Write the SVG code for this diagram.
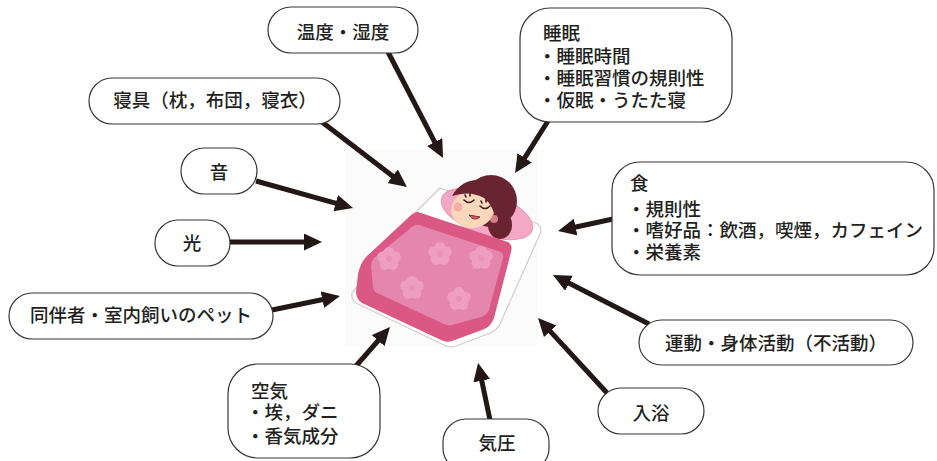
<svg xmlns="http://www.w3.org/2000/svg" width="937" height="461" viewBox="0 0 937 461">
  <style>
    .box { fill: #ffffff; stroke: #3a3536; stroke-width: 1.2; }
    .t { font-family: "Noto Sans CJK JP", "Noto Sans", sans-serif; font-size: 18.5px; font-weight: 500; fill: #231f20; }
    .mid { text-anchor: middle; }
    .arrow { stroke: #231815; stroke-width: 5; fill: none; marker-end: url(#head); }
    .petal { fill: #ee9fbf; }
  </style>
  <defs>
    <marker id="head" markerUnits="userSpaceOnUse" markerWidth="20" markerHeight="18" refX="8" refY="8.5" orient="auto" viewBox="0 0 20 18">
      <path d="M0,0 L18,8.5 L0,17 Z" fill="#231815"/>
    </marker>
    <g id="flower">
      <circle class="petal" cx="0" cy="-6.5" r="5.5"/>
      <circle class="petal" cx="6.2" cy="-2" r="5.5"/>
      <circle class="petal" cx="3.8" cy="5.3" r="5.5"/>
      <circle class="petal" cx="-3.8" cy="5.3" r="5.5"/>
      <circle class="petal" cx="-6.2" cy="-2" r="5.5"/>
      <circle cx="0" cy="0" r="3" fill="#e993b5"/>
    </g>
  </defs>

  <rect width="937" height="461" fill="#ffffff"/>

  <!-- sleeping girl in futon -->
  <g id="sleeper">
    <rect x="345" y="150" width="193" height="196" fill="#fcfbfb"/>
    <!-- mattress -->
    <path d="M440,188 L536,223 Q543,227 540,234 L500,324 Q497,330 490,333 L456,346 Q450,348 444,345 L356,303 Q351,300 352,293 L417,211 Z" fill="#ffffff" stroke="#d6cccd" stroke-width="1.3" stroke-linejoin="round"/>
    <!-- pillow -->
    <ellipse cx="487" cy="214" rx="48" ry="21" transform="rotate(20 487 214)" fill="#f3a8c3" stroke="#eb94b4" stroke-width="1"/>
    <!-- hair -->
    <circle cx="491" cy="201" r="26" fill="#6a2330"/>
    <ellipse cx="500" cy="225" rx="12" ry="14" fill="#6a2330"/>
    <!-- face -->
    <ellipse cx="473" cy="209" rx="22" ry="19" transform="rotate(-15 473 209)" fill="#fbd8bc"/>
    <!-- bangs -->
    <path d="M452,196 Q462,178 484,180 Q502,186 503,206 Q500,216 496,222 Q494,206 484,198 Q470,190 452,196 Z" fill="#6a2330"/>
    <!-- cheeks -->
    <circle cx="458" cy="207" r="4.5" fill="#f4a09f" opacity="0.75"/>
    <circle cx="494" cy="219" r="4" fill="#f4a09f" opacity="0.75"/>
    <!-- closed eyes -->
    <path d="M464,200 Q469,205 474,200 M466,197 L465,195 M470,196 L470,194" stroke="#3b1a1d" stroke-width="1.6" fill="none" stroke-linecap="round"/>
    <path d="M480,206 Q485,211 490,206 M482,203 L481,201 M486,202 L486,200" stroke="#3b1a1d" stroke-width="1.6" fill="none" stroke-linecap="round"/>
    <!-- mouth -->
    <path d="M469,215 Q474,222 480,217 Z" fill="#e0566a" stroke="#8a2a35" stroke-width="1" stroke-linejoin="round"/>
    <!-- quilt -->
    <path d="M418,212 L508,242 Q513,245 511,252 L494,318 Q491,327 482,330 L452,341 Q447,343 441,340 L362,303 Q356,299 356,292 L358,274 Q360,264 366,257 L410,216 Q414,212 418,212 Z" fill="#dc5884"/>
    <path d="M419,225 L501,252 Q504,254 503,258 L489,310 Q487,315 481,317 L452,325 Q448,326 444,324 L377,293 Q373,291 373,286 L371,266 Q371,262 374,258 L412,227 Q415,224 419,225 Z" fill="#e587ad"/>
    <use href="#flower" x="440" y="254"/>
    <use href="#flower" x="412" y="288"/>
    <use href="#flower" x="459" y="299"/>
    <use href="#flower" x="481" y="258"/>
    <use href="#flower" x="389" y="259"/>
  </g>

  <!-- connectors -->
  <g id="connectors">
    <line class="arrow" x1="388" y1="52" x2="438.4" y2="149.1"/>
    <line class="arrow" x1="322" y1="122" x2="399.0" y2="181.0"/>
    <line class="arrow" x1="548" y1="121" x2="520.4" y2="164.6"/>
    <line class="arrow" x1="256" y1="181" x2="343.4" y2="205.3"/>
    <line class="arrow" x1="229" y1="242" x2="312" y2="242"/>
    <line class="arrow" x1="272" y1="310" x2="330.2" y2="298.0"/>
    <line class="arrow" x1="613" y1="219" x2="567.8" y2="228.8"/>
    <line class="arrow" x1="649" y1="324" x2="561.9" y2="279.6"/>
    <line class="arrow" x1="608" y1="394" x2="544.8" y2="325.4"/>
    <line class="arrow" x1="490" y1="420" x2="480.1" y2="372.8"/>
    <line class="arrow" x1="356" y1="366" x2="383.4" y2="334.6"/>
  </g>

  <g id="node-temp">
    <rect class="box" x="268" y="7" width="150" height="46" rx="23"/>
    <text class="t mid" x="343" y="39">温度・湿度</text>
  </g>
  <g id="node-bedding">
    <rect class="box" x="89" y="78" width="251" height="46" rx="23"/>
    <text class="t mid" x="215" y="107">寝具（枕，布団，寝衣）</text>
  </g>
  <g id="node-sleep">
    <rect class="box" x="520" y="8" width="212" height="114" rx="30"/>
    <text class="t"><tspan x="543" y="40">睡眠</tspan><tspan x="538" y="63">・睡眠時間</tspan><tspan x="538" y="85">・睡眠習慣の規則性</tspan><tspan x="538" y="107">・仮眠・うたた寝</tspan></text>
  </g>
  <g id="node-sound">
    <rect class="box" x="181" y="148" width="76" height="46" rx="23"/>
    <text class="t mid" x="219" y="179">音</text>
  </g>
  <g id="node-light">
    <rect class="box" x="155" y="220" width="75" height="46" rx="23"/>
    <text class="t mid" x="192" y="250">光</text>
  </g>
  <g id="node-companion">
    <rect class="box" x="9" y="293" width="264" height="46" rx="23"/>
    <text class="t mid" x="141" y="322">同伴者・室内飼いのペット</text>
  </g>
  <g id="node-food">
    <rect class="box" x="612" y="162" width="322" height="113" rx="28"/>
    <text class="t"><tspan x="630" y="190">食</tspan><tspan x="627" y="216">・規則性</tspan><tspan x="627" y="237">・嗜好品：飲酒，喫煙，カフェイン</tspan><tspan x="627" y="259">・栄養素</tspan></text>
  </g>
  <g id="node-exercise">
    <rect class="box" x="639" y="320" width="274" height="45" rx="22.5"/>
    <text class="t mid" x="776" y="350">運動・身体活動（不活動）</text>
  </g>
  <g id="node-bath">
    <rect class="box" x="598" y="388" width="106" height="46" rx="23"/>
    <text class="t mid" x="651" y="420">入浴</text>
  </g>
  <g id="node-pressure">
    <rect class="box" x="443" y="419" width="106" height="52" rx="23"/>
    <text class="t mid" x="497" y="450">気圧</text>
  </g>
  <g id="node-air">
    <rect class="box" x="228" y="364" width="152" height="94" rx="30"/>
    <text class="t"><tspan x="251" y="398">空気</tspan><tspan x="246" y="419">・埃，ダニ</tspan><tspan x="246" y="443">・香気成分</tspan></text>
  </g>
</svg>
